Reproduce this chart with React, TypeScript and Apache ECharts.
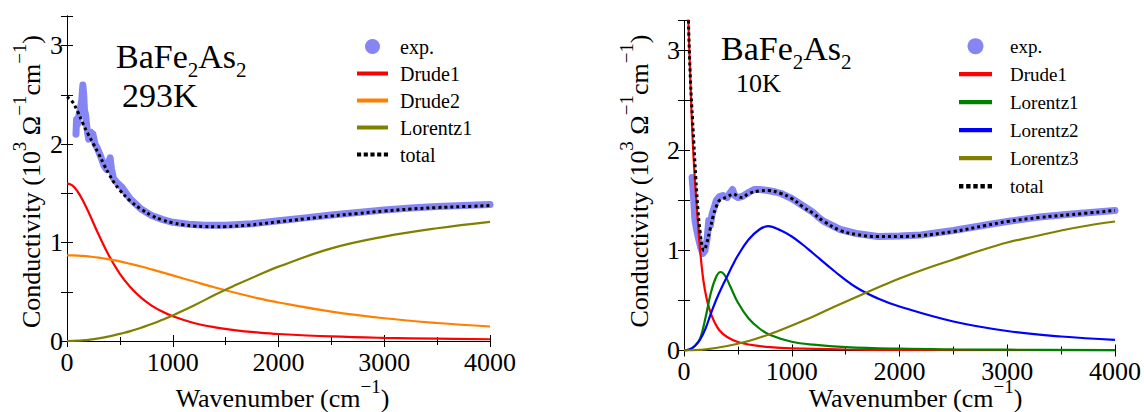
import React, { useEffect, useRef } from 'react';
import * as echarts from 'echarts';

const FONT = '"Liberation Serif", serif';
const EXP_COLOR = '#8585f3';

// ---------- Left panel: BaFe2As2, 293 K ----------
const leftModelX = [0, 50, 100, 150, 200, 300, 400, 500, 600, 700, 800, 900, 1000, 1200, 1400, 1600, 1800, 2000, 2500, 3000, 3500, 4000];
const leftDrude1 = [1.6, 1.579, 1.518, 1.427, 1.317, 1.078, 0.86, 0.682, 0.545, 0.44, 0.36, 0.299, 0.251, 0.183, 0.139, 0.108, 0.087, 0.071, 0.046, 0.032, 0.024, 0.018];
const leftDrude2 = [0.87, 0.869, 0.867, 0.864, 0.859, 0.847, 0.829, 0.808, 0.783, 0.756, 0.727, 0.697, 0.666, 0.604, 0.543, 0.487, 0.436, 0.391, 0.298, 0.231, 0.183, 0.147];
const leftLorentz1 = [0, 0.001, 0.003, 0.007, 0.012, 0.027, 0.047, 0.073, 0.1, 0.135, 0.172, 0.215, 0.26, 0.36, 0.47, 0.57, 0.665, 0.755, 0.94, 1.06, 1.145, 1.21];
const leftTotalX = [0, 50, 100, 150, 200, 250, 300, 350, 400, 450, 500, 600, 700, 800, 900, 1000, 1100, 1200, 1300, 1400, 1500, 1700, 2000, 2250, 2500, 2750, 3000, 3250, 3500, 3750, 4000];
const leftTotal = [2.48, 2.43, 2.33, 2.21, 2.1, 2.0, 1.9, 1.79, 1.69, 1.6, 1.53, 1.42, 1.34, 1.275, 1.23, 1.2, 1.18, 1.168, 1.162, 1.16, 1.162, 1.175, 1.21, 1.24, 1.27, 1.295, 1.32, 1.34, 1.355, 1.365, 1.375];
const leftExpX = [85, 90, 100, 110, 125, 140, 150, 158, 165, 175, 190, 205, 225, 245, 265, 290, 320, 350, 375, 395, 408, 420, 440, 480, 520, 560, 600, 700, 800, 900, 1000, 1150, 1300, 1500, 1750, 2000, 2250, 2500, 2750, 3000, 3250, 3500, 3750, 4000];
const leftExp = [2.1, 2.25, 2.2, 2.28, 2.35, 2.45, 2.6, 2.5, 2.35, 2.3, 2.15, 2.05, 2.12, 2.1, 2.0, 1.95, 1.87, 1.78, 1.74, 1.82, 1.86, 1.75, 1.65, 1.6, 1.56, 1.5, 1.44, 1.34, 1.275, 1.235, 1.205, 1.185, 1.175, 1.175, 1.19, 1.22, 1.25, 1.28, 1.305, 1.33, 1.35, 1.365, 1.375, 1.385];

// ---------- Right panel: BaFe2As2, 10 K ----------
const rightDrude1X = [0, 20, 40, 60, 80, 100, 120, 150, 180, 210, 240, 280, 330, 400, 500, 600, 800, 1000, 1500, 2000, 3000, 4000];
const rightDrude1 = [4.14, 3.9, 3.31, 2.68, 2.12, 1.72, 1.42, 1.0, 0.7, 0.52, 0.4, 0.29, 0.2, 0.135, 0.085, 0.06, 0.033, 0.021, 0.01, 0.006, 0.003, 0.002];
const rightLorentz1X = [0, 50, 100, 150, 200, 250, 300, 340, 380, 430, 500, 600, 700, 800, 1000, 1200, 1500, 2000, 2500, 3000, 4000];
const rightLorentz1 = [0, 0.01, 0.045, 0.12, 0.33, 0.58, 0.74, 0.785, 0.75, 0.64, 0.48, 0.32, 0.22, 0.155, 0.088, 0.058, 0.034, 0.018, 0.011, 0.008, 0.004];
const rightLorentz2X = [0, 50, 100, 150, 200, 250, 300, 350, 400, 450, 500, 600, 700, 780, 900, 1000, 1100, 1200, 1400, 1600, 1800, 2000, 2500, 3000, 3500, 4000];
const rightLorentz2 = [0, 0.01, 0.045, 0.11, 0.22, 0.37, 0.51, 0.63, 0.74, 0.85, 0.95, 1.11, 1.21, 1.243, 1.2, 1.14, 1.06, 0.97, 0.79, 0.63, 0.52, 0.44, 0.29, 0.195, 0.14, 0.107];
const rightLorentz3X = [0, 200, 400, 600, 800, 1000, 1200, 1400, 1600, 1800, 2000, 2250, 2500, 2750, 3000, 3250, 3500, 3750, 4000];
const rightLorentz3 = [0, 0.012, 0.045, 0.095, 0.165, 0.25, 0.34, 0.44, 0.535, 0.63, 0.72, 0.82, 0.91, 1.0, 1.08, 1.14, 1.2, 1.25, 1.29];
const rightTotalX = [30, 40, 60, 80, 90, 110, 130, 150, 170, 185, 210, 240, 270, 300, 330, 400, 460, 500, 540, 600, 700, 780, 900, 1000, 1100, 1200, 1300, 1450, 1600, 1800, 2000, 2200, 2500, 2800, 3000, 3300, 3600, 4000];
const rightTotal = [3.9, 3.35, 2.7, 2.3, 2.1, 1.72, 1.4, 1.18, 1.03, 1.0, 1.07, 1.2, 1.34, 1.44, 1.5, 1.535, 1.565, 1.54, 1.53, 1.57, 1.595, 1.6, 1.57, 1.52, 1.44, 1.37, 1.29, 1.2, 1.16, 1.14, 1.14, 1.15, 1.19, 1.25, 1.29, 1.33, 1.36, 1.4];
const rightExpX = [75, 85, 95, 102, 115, 135, 155, 175, 195, 215, 230, 245, 260, 280, 300, 330, 360, 400, 430, 450, 470, 500, 540, 600, 650, 700, 780, 850, 900, 1000, 1100, 1200, 1250, 1300, 1450, 1600, 1800, 2000, 2200, 2500, 2800, 3000, 3300, 3600, 4000];
const rightExp = [1.73, 1.6, 1.42, 1.3, 1.22, 1.12, 1.03, 0.97, 1.0, 1.12, 1.3, 1.25, 1.36, 1.43, 1.5, 1.54, 1.55, 1.53, 1.58, 1.61, 1.55, 1.53, 1.54, 1.58, 1.61, 1.61, 1.6, 1.585, 1.57, 1.52, 1.45, 1.38, 1.33, 1.29, 1.21, 1.17, 1.14, 1.145, 1.155, 1.2, 1.255, 1.29, 1.335, 1.365, 1.4];

// Axis ticks
const xMin = 0;
const xMax = 4000;
const xStep = 1000;
const yMin = 0;
const yMax = 3.3;
const yStep = 0.5;

function pairs(xs: number[], ys: number[]) {
  return xs.map((x, i) => [x, ys[i]]);
}

const BLACK = '#000';
const LINE_ICON = 'path://M0,0H31V4H0Z';
const DOT_ICON = 'path://M0,0h4v4h-4zM6.5,0h4v4h-4zM13,0h4v4h-4zM19.5,0h4v4h-4zM26,0h4v4h-4z';

function xAxisDef(gridIndex: number, position: 'bottom' | 'top') {
  return {
    type: 'value',
    gridIndex,
    position,
    min: xMin,
    max: xMax,
    interval: xStep,
    axisLine: { show: true, lineStyle: { color: BLACK, width: 1 } },
    axisTick: { show: true, inside: true, length: 6, lineStyle: { color: BLACK, width: 1 } },
    minorTick: { show: true, splitNumber: 2, length: 4, lineStyle: { color: BLACK, width: 1 } },
    splitLine: { show: false },
    minorSplitLine: { show: false },
    axisLabel: {
      show: position === 'bottom',
      fontFamily: FONT,
      fontSize: 26,
      lineHeight: 26,
      color: BLACK,
      margin: 8,
      formatter: (v: number) => String(v),
    },
  };
}

function yAxisDef(gridIndex: number, position: 'left' | 'right') {
  return {
    type: 'value',
    gridIndex,
    position,
    min: yMin,
    max: yMax,
    interval: yStep,
    axisLine: { show: true, lineStyle: { color: BLACK, width: 1 } },
    axisTick: { show: true, inside: true, length: 6, lineStyle: { color: BLACK, width: 1 } },
    splitLine: { show: false },
    axisLabel: {
      show: position === 'left',
      fontFamily: FONT,
      fontSize: 26,
      color: BLACK,
      margin: 4,
      formatter: (v: number) => (Math.abs(v - Math.round(v)) < 1e-6 ? String(Math.round(v)) : ''),
    },
  };
}

function lineSeries(name: string, data: number[][], color: string, xi: number, yi: number) {
  return {
    type: 'line',
    name,
    data,
    xAxisIndex: xi,
    yAxisIndex: yi,
    symbol: 'none',
    smooth: 0.4,
    color,
    lineStyle: { color, width: 2.2 },
    itemStyle: { color },
    clip: true,
    z: 3,
  };
}

function expSeries(data: number[][], xi: number, yi: number) {
  return {
    type: 'line',
    name: 'exp.',
    data,
    xAxisIndex: xi,
    yAxisIndex: yi,
    symbol: 'none',
    smooth: false,
    color: EXP_COLOR,
    lineStyle: { color: EXP_COLOR, width: 7, cap: 'round', join: 'round' },
    itemStyle: { color: EXP_COLOR },
    clip: true,
    z: 2,
  };
}

function totalSeries(data: number[][], xi: number, yi: number) {
  return {
    type: 'line',
    name: 'total',
    data,
    xAxisIndex: xi,
    yAxisIndex: yi,
    symbol: 'none',
    smooth: 0.4,
    color: BLACK,
    lineStyle: { color: BLACK, width: 3, type: [3, 3] },
    itemStyle: { color: BLACK },
    clip: true,
    z: 5,
  };
}

const richMain = (size: number, lh: number) => ({ fontFamily: FONT, fontSize: size, lineHeight: lh, fill: BLACK });
const richSub = (size: number, h: number) => ({ fontFamily: FONT, fontSize: size, height: h, verticalAlign: 'bottom', fill: BLACK });
const richSup = (size: number, h: number) => ({ fontFamily: FONT, fontSize: size, height: h, verticalAlign: 'top', fill: BLACK });

function formulaText(x: number, y: number) {
  return {
    type: 'text',
    x,
    y,
    z: 10,
    style: {
      text: '{m|BaFe}{s|2}{m|As}{s|2}',
      align: 'left',
      verticalAlign: 'middle',
      fill: BLACK,
      fontFamily: FONT,
      rich: { m: richMain(34, 34), s: richSub(21, 8) },
    },
  };
}

function plainText(x: number, y: number, text: string, size: number) {
  return {
    type: 'text',
    x,
    y,
    z: 10,
    style: { text, align: 'left', verticalAlign: 'middle', fill: BLACK, fontFamily: FONT, fontSize: size, lineHeight: size * 0.75 },
  };
}

function xTitle(x: number, y: number) {
  return {
    type: 'text',
    x,
    y,
    z: 10,
    style: {
      text: '{m|Wavenumber (cm}{p|−1}{m|)}',
      align: 'center',
      verticalAlign: 'middle',
      fill: BLACK,
      fontFamily: FONT,
      rich: { m: richMain(26, 24), p: richSup(19, 1) },
    },
  };
}

function yTitle(x: number, y: number) {
  return {
    type: 'text',
    x,
    y,
    rotation: Math.PI / 2,
    z: 10,
    style: {
      text: '{m|Conductivity (10}{p|3}{m| Ω}{p|−1}{m|cm}{p|−1}{m|)}',
      align: 'center',
      verticalAlign: 'middle',
      fill: BLACK,
      fontFamily: FONT,
      rich: { m: richMain(26, 26), p: richSup(19, 1) },
    },
  };
}

function legendItem(name: string, color: string, icon: string) {
  return { name, icon, itemStyle: { color, borderWidth: 0 } };
}

export default function App() {
  const ref = useRef<HTMLDivElement>(null);

  useEffect(() => {
    document.body.style.margin = '0';
    if (!ref.current) return;
    const chart = echarts.init(ref.current, undefined, { renderer: 'svg' });

    const option: any = {
      animation: false,
      backgroundColor: '#fff',
      textStyle: { fontFamily: FONT },
      grid: [
        { left: 67, top: 16, width: 423, height: 325, containLabel: false, outerBoundsMode: 'none' },
        { left: 684, top: 20.5, width: 431, height: 330, containLabel: false, outerBoundsMode: 'none' },
      ],
      xAxis: [xAxisDef(0, 'bottom'), xAxisDef(0, 'top'), xAxisDef(1, 'bottom'), xAxisDef(1, 'top')],
      yAxis: [yAxisDef(0, 'left'), yAxisDef(0, 'right'), yAxisDef(1, 'left'), yAxisDef(1, 'right')],
      legend: [
        {
          orient: 'vertical',
          left: 357,
          top: 36.5,
          itemWidth: 31,
          itemHeight: 15,
          itemGap: 7,
          padding: 0,
          selectedMode: false,
          itemStyle: { borderWidth: 0 },
          textStyle: { fontFamily: FONT, fontSize: 20, color: BLACK, padding: [0, 0, 0, 7] },
          data: [
            legendItem('exp.', EXP_COLOR, 'circle'),
            legendItem('Drude1', '#ff0000', LINE_ICON),
            legendItem('Drude2', '#ff8000', LINE_ICON),
            legendItem('Lorentz1', '#808000', LINE_ICON),
            legendItem('total', BLACK, DOT_ICON),
          ],
        },
        {
          orient: 'vertical',
          left: 959,
          top: 36.7,
          itemWidth: 33,
          itemHeight: 16,
          itemGap: 9,
          padding: 0,
          selectedMode: false,
          itemStyle: { borderWidth: 0 },
          textStyle: { fontFamily: FONT, fontSize: 19, color: BLACK, padding: [0, 0, 0, 13] },
          data: [
            legendItem('exp.', EXP_COLOR, 'circle'),
            legendItem('Drude1', '#ff0000', LINE_ICON),
            legendItem('Lorentz1', '#008000', LINE_ICON),
            legendItem('Lorentz2', '#0000ff', LINE_ICON),
            legendItem('Lorentz3', '#808000', LINE_ICON),
            legendItem('total', BLACK, DOT_ICON),
          ],
        },
      ],
      series: [
        expSeries(pairs(leftExpX, leftExp), 0, 0),
        lineSeries('Drude1', pairs(leftModelX, leftDrude1), '#ff0000', 0, 0),
        lineSeries('Drude2', pairs(leftModelX, leftDrude2), '#ff8000', 0, 0),
        lineSeries('Lorentz1', pairs(leftModelX, leftLorentz1), '#808000', 0, 0),
        totalSeries(pairs(leftTotalX, leftTotal), 0, 0),

        expSeries(pairs(rightExpX, rightExp), 2, 2),
        lineSeries('Drude1', pairs(rightDrude1X, rightDrude1), '#ff0000', 2, 2),
        lineSeries('Lorentz1', pairs(rightLorentz1X, rightLorentz1), '#008000', 2, 2),
        lineSeries('Lorentz2', pairs(rightLorentz2X, rightLorentz2), '#0000ff', 2, 2),
        lineSeries('Lorentz3', pairs(rightLorentz3X, rightLorentz3), '#808000', 2, 2),
        totalSeries(pairs(rightTotalX, rightTotal), 2, 2),
      ],
      graphic: [
        formulaText(116, 56.5),
        plainText(122, 95.5, '293K', 34),
        formulaText(721, 48.5),
        plainText(736, 83, '10K', 26),
        xTitle(282.5, 398),
        xTitle(915.5, 398),
        yTitle(31.5, 181.5),
        yTitle(639, 181),
      ],
    };

    chart.setOption(option);
    return () => chart.dispose();
  }, []);

  return <div ref={ref} style={{ width: 1144, height: 412 }} />;
}
